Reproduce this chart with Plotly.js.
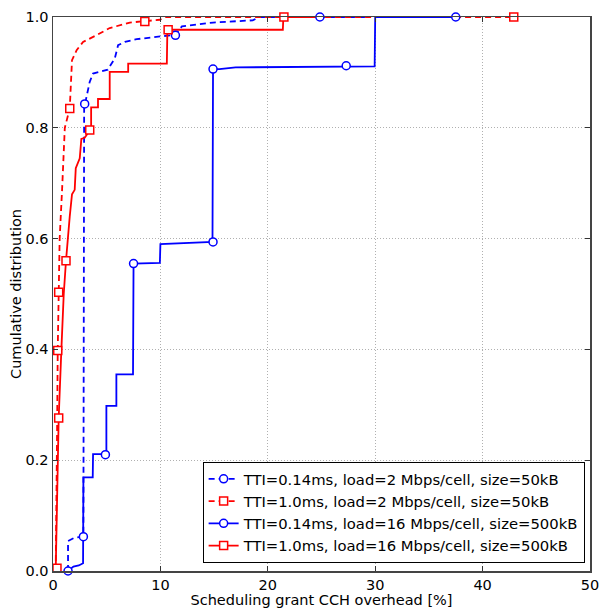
<!DOCTYPE html>
<html>
<head>
<meta charset="utf-8">
<script src="https://cdn.plot.ly/plotly-3.0.1.min.js"></script>
<style>html,body{margin:0;padding:0;background:#fff;}#chart{width:600px;height:608px;}</style>
</head>
<body>
<div id="chart"></div>
<script>
// Series names
const seriesNames = [
  "TTI=0.14ms, load=2 Mbps/cell, size=50kB",
  "TTI=1.0ms, load=2 Mbps/cell, size=50kB",
  "TTI=0.14ms, load=16 Mbps/cell, size=500kB",
  "TTI=1.0ms, load=16 Mbps/cell, size=500kB"
];

// Blue dashed: TTI=0.14ms, 2 Mbps/cell, 50kB
const bdX = [1.4, 1.4, 2.0, 2.83, 2.9, 3.0, 3.42, 3.73, 5.1, 5.75, 6.06, 6.7, 7.8, 9.3, 11.4, 12.0, 14.9, 18.6, 19.2, 29.5];
const bdY = [0.0, 0.054, 0.06, 0.062, 0.84, 0.845, 0.883, 0.898, 0.905, 0.925, 0.949, 0.955, 0.96, 0.963, 0.968, 0.983, 0.99, 0.994, 1.0, 1.0];
const bdMX = [2.83, 2.95, 11.4, 24.85];
const bdMY = [0.062, 0.843, 0.967, 1.0];

// Red dashed: TTI=1.0ms, 2 Mbps/cell, 50kB
const rdX = [0.25, 0.33, 0.38, 0.44, 0.53, 0.62, 0.85, 1.09, 1.1, 1.56, 1.77, 2.2, 2.8, 4.04, 5.28, 7.15, 8.55, 9.95, 10.5, 43.0];
const rdY = [0.0, 0.1, 0.25, 0.398, 0.503, 0.6, 0.69, 0.778, 0.8, 0.835, 0.922, 0.94, 0.955, 0.967, 0.98, 0.99, 0.992, 0.995, 1.0, 1.0];
const rdMX = [0.44, 0.53, 1.56, 8.55, 42.9];
const rdMY = [0.398, 0.503, 0.835, 0.992, 1.0];

// Blue solid: TTI=0.14ms, 16 Mbps/cell, 500kB
const bsX = [1.4, 1.9, 2.4, 2.8, 2.83, 3.7, 3.73, 4.97, 4.97, 5.9, 5.9, 7.45, 7.5, 9.95, 10.0, 14.85, 14.9, 15.5, 17.0, 27.3, 29.95, 30.0, 37.5];
const bsY = [0.0, 0.008, 0.01, 0.014, 0.169, 0.169, 0.211, 0.211, 0.298, 0.298, 0.355, 0.355, 0.555, 0.556, 0.59, 0.594, 0.906, 0.906, 0.909, 0.911, 0.911, 1.0, 1.0];
const bsMX = [1.4, 4.88, 7.5, 14.9, 14.9, 27.3, 37.5];
const bsMY = [0.0, 0.21, 0.555, 0.594, 0.906, 0.912, 1.0];

// Red solid: TTI=1.0ms, 16 Mbps/cell, 500kB
const rsX = [0.25, 0.35, 0.45, 0.53, 0.78, 1.0, 1.21, 1.4, 1.56, 1.77, 2.02, 2.12, 2.33, 2.49, 2.64, 2.95, 3.42, 3.55, 3.55, 4.19, 4.19, 5.28, 5.28, 7.0, 7.0, 10.6, 10.65, 21.4, 21.45, 25.0];
const rsY = [0.0, 0.1, 0.2, 0.276, 0.4, 0.5, 0.56, 0.61, 0.64, 0.68, 0.688, 0.727, 0.739, 0.745, 0.78, 0.782, 0.795, 0.795, 0.837, 0.837, 0.852, 0.852, 0.901, 0.901, 0.916, 0.916, 0.977, 0.977, 1.0, 1.0];
const rsMX = [0.37, 0.53, 1.21, 3.42, 10.72, 21.5];
const rsMY = [0.005, 0.276, 0.56, 0.796, 0.977, 1.0];

const xTicks = [0, 10, 20, 30, 40, 50];
const yTicks = [0.0, 0.2, 0.4, 0.6, 0.8, 1.0];
const yTickText = ["0.0", "0.2", "0.4", "0.6", "0.8", "1.0"];

const BLUE = '#0000ff', RED = '#ff0000';
const specs = [
  {x: bdX, y: bdY, mx: bdMX, my: bdMY, color: BLUE, dash: '6px,4px', symbol: 'circle', name: seriesNames[0]},
  {x: rdX, y: rdY, mx: rdMX, my: rdMY, color: RED, dash: '6px,4px', symbol: 'square', name: seriesNames[1]},
  {x: bsX, y: bsY, mx: bsMX, my: bsMY, color: BLUE, dash: 'solid', symbol: 'circle', name: seriesNames[2]},
  {x: rsX, y: rsY, mx: rsMX, my: rsMY, color: RED, dash: 'solid', symbol: 'square', name: seriesNames[3]}
];

const traces = [];
specs.forEach((s, i) => {
  traces.push({x: s.x, y: s.y, mode: 'lines', type: 'scatter', showlegend: false, legendgroup: 'g' + i,
    line: {color: s.color, width: 1.8, dash: s.dash}, cliponaxis: false, hoverinfo: 'skip'});
});
specs.forEach((s, i) => {
  traces.push({x: s.mx, y: s.my, mode: 'markers', type: 'scatter', showlegend: false, legendgroup: 'g' + i,
    marker: {symbol: s.symbol, size: 8, color: '#ffffff', line: {color: s.color, width: 1.5}}, cliponaxis: false});
});
specs.forEach((s, i) => {
  traces.push({x: [null], y: [null], mode: 'lines+markers', type: 'scatter', name: s.name, legendgroup: 'g' + i,
    line: {color: s.color, width: 1.8, dash: s.dash},
    marker: {symbol: s.symbol, size: 8, color: '#ffffff', line: {color: s.color, width: 1.5}}});
});

const axisCommon = {
  showline: true, linecolor: '#444', linewidth: 1.5, mirror: 'ticks',
  ticks: 'inside', ticklen: 5, tickcolor: '#333', tickwidth: 1,
  showgrid: true, gridcolor: '#b0b0b0', griddash: '1px,2px', gridwidth: 1,
  zeroline: false, tickfont: {family: 'DejaVu Sans', size: 14.5, color: '#000'}
};

const layout = {
  width: 600, height: 608,
  margin: {l: 53, r: 10, t: 17, b: 37},
  paper_bgcolor: '#fff', plot_bgcolor: '#fff',
  font: {family: 'DejaVu Sans', size: 14.5, color: '#000'},
  xaxis: Object.assign({}, axisCommon, {range: [0, 50], tickvals: xTicks, ticktext: xTicks.map(String),
    title: {text: 'Scheduling grant CCH overhead [%]', font: {family: 'DejaVu Sans', size: 14.5}, standoff: 2}}),
  yaxis: Object.assign({}, axisCommon, {range: [0, 1], tickvals: yTicks, ticktext: yTickText,
    title: {text: 'Cumulative distribution', font: {family: 'DejaVu Sans', size: 14.5}, standoff: 0}}),
  legend: {x: 0.99, y: 0.015, xanchor: 'right', yanchor: 'bottom', bgcolor: '#fff', bordercolor: '#000', borderwidth: 1,
    font: {family: 'DejaVu Sans', size: 14.8}, tracegroupgap: 0, itemwidth: 30},
  showlegend: true
};

Plotly.newPlot('chart', traces, layout, {displayModeBar: false, staticPlot: true});
</script>
</body>
</html>
